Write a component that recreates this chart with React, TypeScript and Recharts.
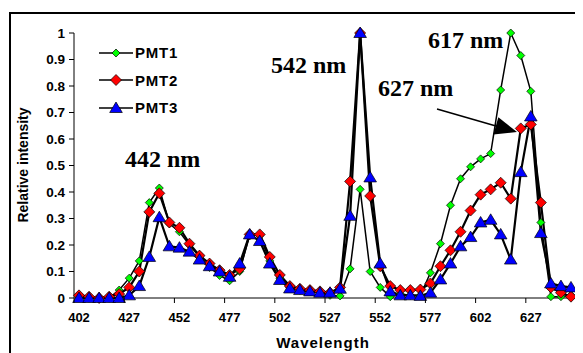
import { Line, LineChart, XAxis, YAxis } from "recharts";

const wavelengths = [
  402, 407, 412, 417, 422, 427, 432, 437, 442, 447, 452, 457, 462, 467, 472, 477, 482, 487, 492, 497,
  502, 507, 512, 517, 522, 527, 532, 537, 542, 547, 552, 557, 562, 567, 572, 577, 582, 587, 592, 597,
  602, 607, 612, 617, 622, 627, 632, 637, 642, 647,
];
const pmt1 = [
  0.01, 0, 0, 0, 0.03, 0.075, 0.14, 0.36, 0.415, 0.28, 0.25, 0.2, 0.155, 0.115, 0.085, 0.065, 0.1, 0.24,
  0.235, 0.14, 0.075, 0.04, 0.03, 0.025, 0.02, 0.01, 0.008, 0.11, 0.41, 0.1, 0.04, 0.005, 0.015, 0.01,
  0.01, 0.095, 0.205, 0.35, 0.45, 0.495, 0.525, 0.545, 0.785, 1.0, 0.915, 0.78, 0.285, 0.005, 0.005, 0.01,
];
const pmt2 = [
  0.01, 0.005, 0, 0.005, 0.015, 0.04, 0.1, 0.325, 0.395, 0.285, 0.265, 0.205, 0.16, 0.13, 0.105, 0.087,
  0.11, 0.24, 0.24, 0.155, 0.087, 0.045, 0.035, 0.03, 0.025, 0.02, 0.04, 0.44, 1.0, 0.385, 0.12, 0.045,
  0.03, 0.03, 0.032, 0.055, 0.12, 0.18, 0.25, 0.33, 0.39, 0.41, 0.435, 0.375, 0.64, 0.655, 0.36, 0.04,
  0.02, 0.005,
];
const pmt3 = [
  0, 0, 0, 0, 0, 0.01, 0.045, 0.155, 0.305, 0.195, 0.19, 0.175, 0.145, 0.12, 0.1, 0.08, 0.13, 0.24, 0.215,
  0.13, 0.068, 0.036, 0.03, 0.025, 0.02, 0.02, 0.035, 0.31, 1.0, 0.455, 0.13, 0.025, 0.01, 0.01, 0.008,
  0.02, 0.07, 0.13, 0.195, 0.23, 0.285, 0.295, 0.24, 0.145, 0.475, 0.685, 0.245, 0.055, 0.045, 0.04,
];
const xTicks = [402, 427, 452, 477, 502, 527, 552, 577, 602, 627];
const yTicks = [0, 0.1, 0.2, 0.3, 0.4, 0.5, 0.6, 0.7, 0.8, 0.9, 1];
const seriesNames = ["PMT1", "PMT2", "PMT3"];

const data = wavelengths.map((w, i) => ({ w, pmt1: pmt1[i], pmt2: pmt2[i], pmt3: pmt3[i] }));

const FONT = "'Liberation Sans', Arial, sans-serif";

function diamondPoints(cx: number, cy: number, r: number) {
  return `${cx},${cy - r} ${cx + r},${cy} ${cx},${cy + r} ${cx - r},${cy}`;
}
function trianglePoints(cx: number, cy: number, r: number) {
  return `${cx},${cy - r} ${cx + r * 1.05},${cy + r * 0.75} ${cx - r * 1.05},${cy + r * 0.75}`;
}

const greenDot = (p: any) => (
  <polygon key={p.index} points={diamondPoints(p.cx, p.cy, 4)} fill="#00ff00" stroke="#000" strokeWidth={0.7} />
);
const redDot = (p: any) => (
  <polygon key={p.index} points={diamondPoints(p.cx, p.cy, 5.5)} fill="#ff0000" stroke="#000" strokeWidth={0.7} />
);
const blueDot = (p: any) => (
  <polygon key={p.index} points={trianglePoints(p.cx, p.cy, 6)} fill="#0000ff" stroke="#000" strokeWidth={0.7} />
);

function XTick({ x, y, payload }: any) {
  return (
    <g>
      <line x1={x - 5} x2={x - 5} y1={y - 8} y2={y - 3} stroke="#000" />
      <text x={x} y={y + 16} textAnchor="middle" fontFamily={FONT} fontWeight="bold" fontSize={13} fill="#000">
        {payload.value}
      </text>
    </g>
  );
}

function LegendBox() {
  const markers = [
    <polygon points={diamondPoints(17, 7, 4)} fill="#00ff00" stroke="#000" strokeWidth={0.7} />,
    <polygon points={diamondPoints(17, 7, 5.5)} fill="#ff0000" stroke="#000" strokeWidth={0.7} />,
    <polygon points={trianglePoints(17, 7, 6)} fill="#0000ff" stroke="#000" strokeWidth={0.7} />,
  ];
  return (
    <div
      style={{
        position: "absolute",
        left: 91,
        top: 31,
        fontFamily: FONT,
        fontWeight: "bold",
        fontSize: 15,
      }}
    >
      {seriesNames.map((name, i) => (
        <div key={name} style={{ display: "flex", alignItems: "center", height: 27.5 }}>
          <svg width={35} height={14}>
            <line x1={0} x2={34} y1={7} y2={7} stroke="#000" strokeWidth={1.5} />
            {markers[i]}
          </svg>
          <span style={{ marginLeft: 1, letterSpacing: 0.8 }}>{name}</span>
        </div>
      ))}
    </div>
  );
}

// arrow for the 627 nm label
const arrowFrom = { x: 429, y: 101 };
const arrowTip = { x: 509, y: 124 };
function arrowHead() {
  const dx = arrowTip.x - arrowFrom.x;
  const dy = arrowTip.y - arrowFrom.y;
  const len = Math.hypot(dx, dy);
  const ux = dx / len;
  const uy = dy / len;
  const bx = arrowTip.x - 22 * ux;
  const by = arrowTip.y - 22 * uy;
  return `${arrowTip.x},${arrowTip.y} ${bx - 9 * uy},${by + 9 * ux} ${bx + 9 * uy},${by - 9 * ux}`;
}

export default function App() {
  return (
    <div style={{ position: "relative", width: 575, height: 345, overflow: "hidden" }}>
      <div
        style={{
          position: "absolute",
          left: 1,
          top: 4,
          width: 620,
          height: 400,
          border: "2px solid #000",
        }}
      />
      <LineChart
        width={575}
        height={345}
        data={data}
        margin={{ top: 25, right: 7, bottom: 15, left: 16 }}
        style={{ position: "absolute", left: 0, top: 0 }}
      >
        <XAxis
          dataKey="w"
          type="number"
          domain={[399.5, 649.5]}
          ticks={xTicks}
          interval={0}
          tickLine={false}
          tick={<XTick />}
          axisLine={{ stroke: "#000" }}
          height={40}
        />
        <YAxis
          type="number"
          domain={[0, 1]}
          ticks={yTicks}
          interval={0}
          width={50}
          tickSize={5}
          tickMargin={4}
          tickLine={{ stroke: "#000" }}
          axisLine={{ stroke: "#000" }}
          tickFormatter={(v) => String(Math.round(Number(v) * 10) / 10)}
          tick={{ fill: "#000", fontFamily: FONT, fontWeight: "bold", fontSize: 13.5 }}
        />
        <Line
          dataKey="pmt1"
          name="PMT1"
          stroke="#000"
          strokeWidth={1.5}
          dot={greenDot}
          isAnimationActive={false}
        />
        <Line
          dataKey="pmt2"
          name="PMT2"
          stroke="#000"
          strokeWidth={2.2}
          dot={redDot}
          isAnimationActive={false}
        />
        <Line
          dataKey="pmt3"
          name="PMT3"
          stroke="#000"
          strokeWidth={2.2}
          dot={blueDot}
          isAnimationActive={false}
        />
      </LineChart>
      <LegendBox />
      <svg
        width={575}
        height={345}
        style={{ position: "absolute", left: 0, top: 0, pointerEvents: "none" }}
      >
        <text
          transform="translate(15,157) rotate(-90)"
          textAnchor="middle"
          dominantBaseline="central"
          fontFamily={FONT}
          fontWeight="bold"
          fontSize={14}
        >
          Relative intensity
        </text>
        <text x={315} y={340} textAnchor="middle" fontFamily={FONT} fontWeight="bold" fontSize={15} letterSpacing={1}>
          Wavelength
        </text>
        <g fontFamily="'Liberation Serif', 'Times New Roman', serif" fontWeight="bold" fontSize={24}>
          <text x={117} y={159}>442 nm</text>
          <text x={263} y={65}>542 nm</text>
          <text x={420} y={40}>617 nm</text>
          <text x={370} y={88}>627 nm</text>
        </g>
        <line x1={arrowFrom.x} y1={arrowFrom.y} x2={arrowTip.x - 15} y2={arrowTip.y - 4.3} stroke="#000" strokeWidth={1.5} />
        <polygon points={arrowHead()} fill="#000" />
      </svg>
    </div>
  );
}
